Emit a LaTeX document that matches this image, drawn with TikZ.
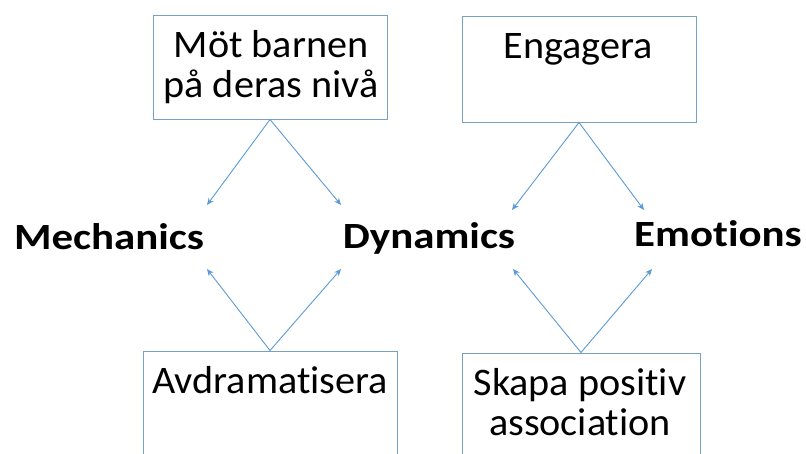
\documentclass[tikz,border=0pt]{standalone}
\usepackage{fontspec}
\setmainfont[Ligatures=CommonOff]{Carlito}
\newfontfamily\boxfont[Ligatures=CommonOff,FakeStretch=1.03]{Carlito}
\newfontfamily\labelfont[Ligatures=CommonOff,FakeStretch=1.16]{Carlito}
\usetikzlibrary{arrows.meta}
\definecolor{arrowblue}{RGB}{91,155,213}
\definecolor{boxline}{RGB}{120,160,195}
\tikzset{
  boxnode/.style={draw=boxline, line width=1pt, inner sep=0pt},
  boxtext/.style={font=\boxfont\fontsize{39}{39.5}\selectfont, align=center, anchor=base, inner sep=0pt},
  mdelabel/.style={font=\labelfont\fontsize{37}{40}\selectfont\bfseries, anchor=base, inner sep=0pt},
  link/.style={draw=arrowblue, line width=0.9pt, -{Stealth[length=7pt,width=6pt]}}
}
\begin{document}
\begin{tikzpicture}[x=1pt,y=-1pt]
\clip (0,0) rectangle (806,453);
\fill[white] (0,0) rectangle (806,453);
% boxes
\node[boxnode, minimum width=234pt, minimum height=104pt] (b1) at (270,67) {};
\node[boxnode, minimum width=234pt, minimum height=106pt] (b2) at (579,69) {};
\node[boxnode, minimum width=254pt, minimum height=140pt] (b3) at (270,421) {};
\node[boxnode, minimum width=238pt, minimum height=140pt] (b4) at (581,423) {};
% box texts
\node[boxtext] (t1) at (271,97) {Möt barnen\\på deras nivå};
\node[boxtext] (t2) at (578,58) {Engagera};
\node[boxtext] (t3) at (270,393) {Avdramatisera};
\node[boxtext] (t4) at (580,435) {Skapa positiv\\association};
% labels
\node[mdelabel] (mech) at (109,249) {Mechanics};
\node[mdelabel] (dyn) at (429,248) {Dynamics};
\node[mdelabel] (emo) at (718,246) {Emotions};
% arrow end points
\coordinate (m1) at (207,205);
\coordinate (d1) at (341,205);
\coordinate (d2) at (512,210);
\coordinate (e1) at (644,210);
\coordinate (m2) at (207,269);
\coordinate (d3) at (341,269);
\coordinate (d4) at (513,269);
\coordinate (e2) at (652,269);
% arrows
\draw[link] (b1.south) -- (m1);
\draw[link] (b1.south) -- (d1);
\draw[link] (b2.south) -- (d2);
\draw[link] (b2.south) -- (e1);
\draw[link] (b3.north) -- (m2);
\draw[link] (b3.north) -- (d3);
\draw[link] (b4.north) -- (d4);
\draw[link] (b4.north) -- (e2);
\end{tikzpicture}
\end{document}
